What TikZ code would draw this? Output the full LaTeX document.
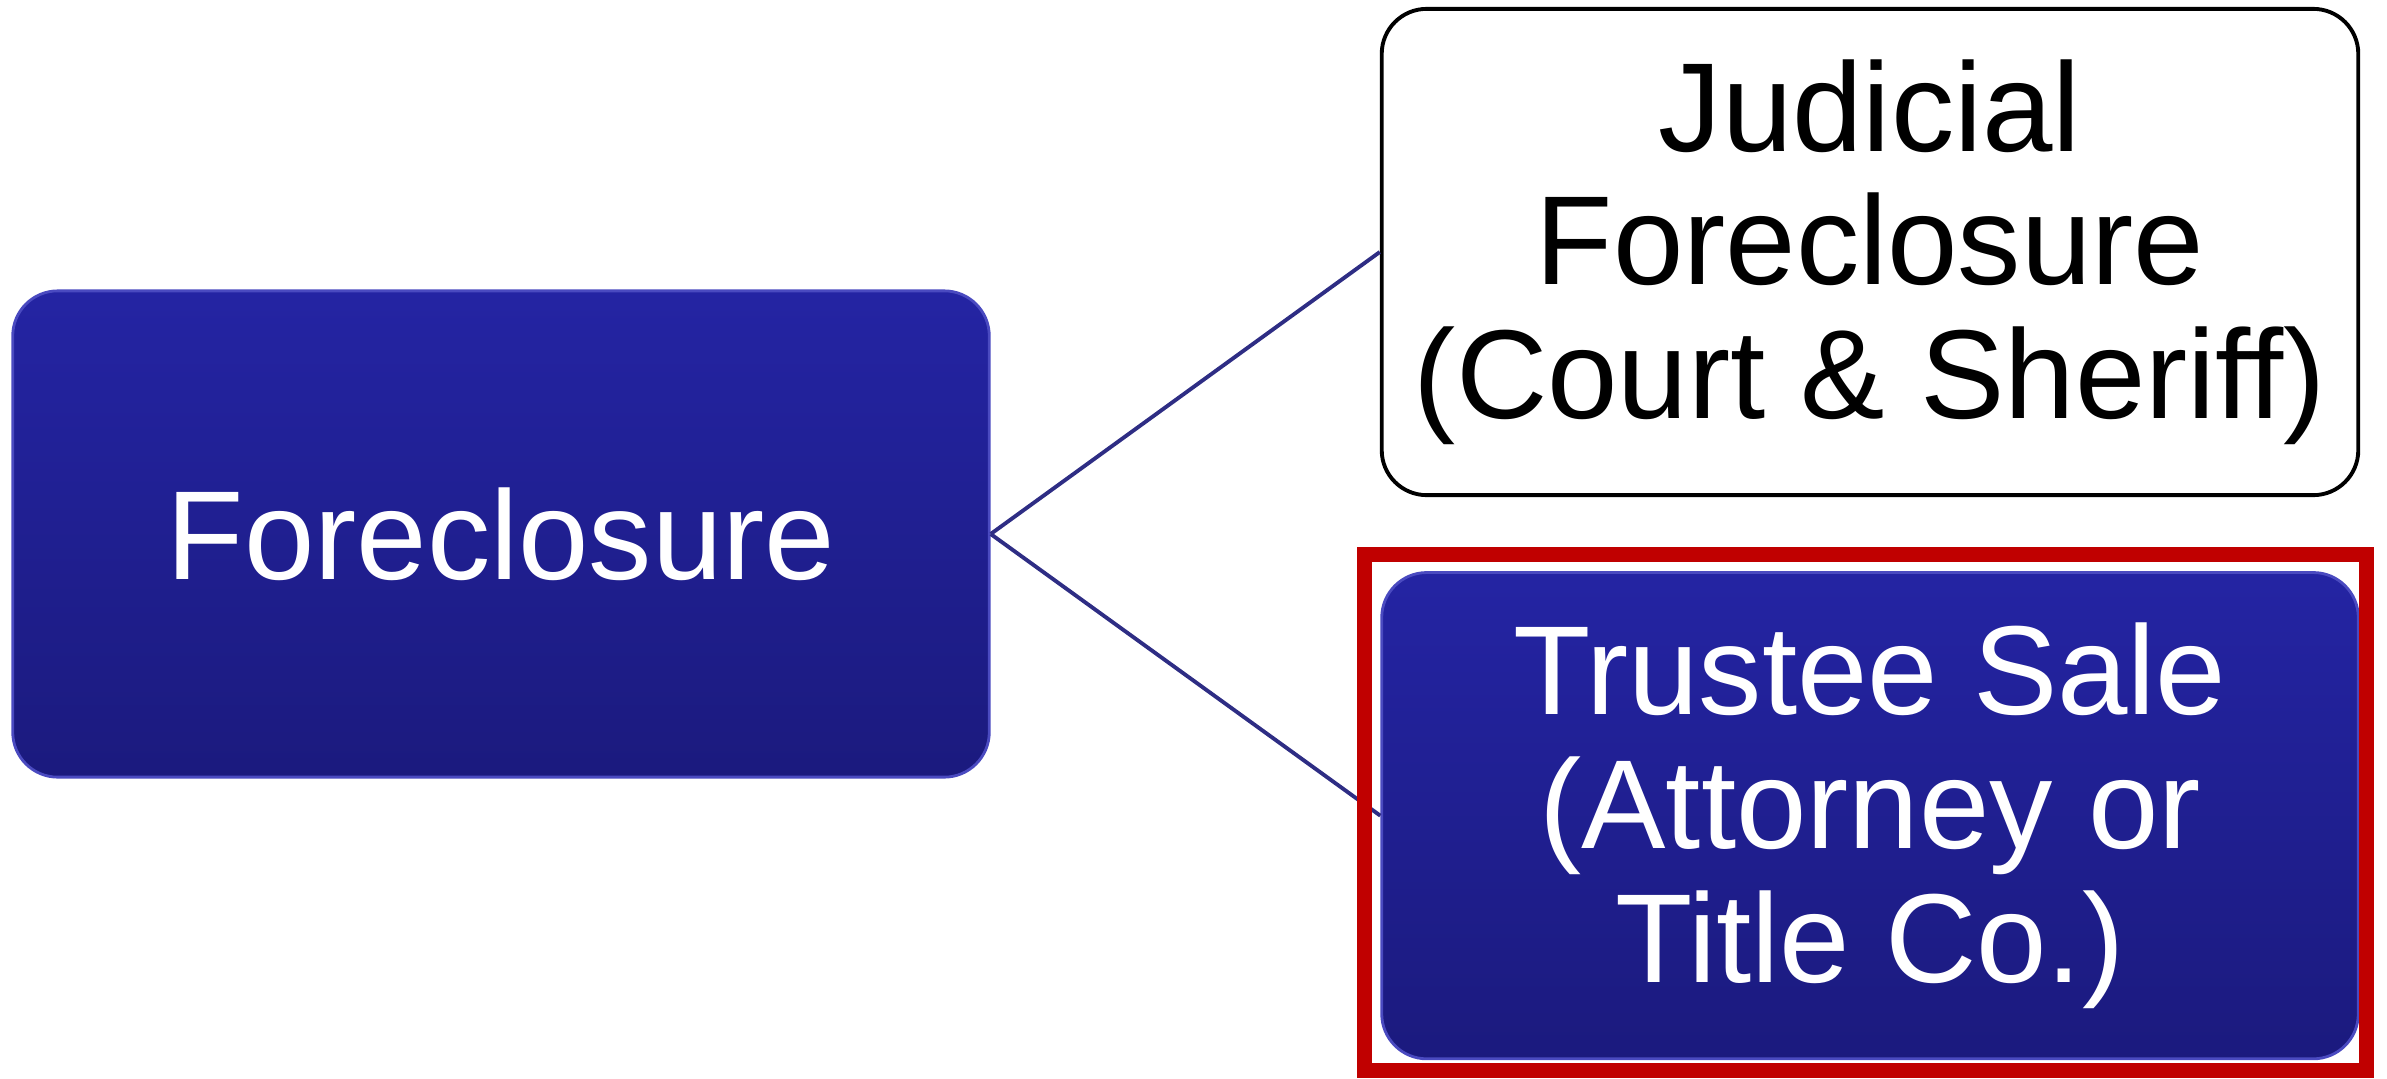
\documentclass[tikz,border=0pt]{standalone}
\usepackage{fontspec}
\setmainfont{Liberation Sans}
\usetikzlibrary{positioning}

\definecolor{boxtop}{HTML}{2424A3}
\definecolor{boxbottom}{HTML}{1B1A7E}
\definecolor{boxrim}{HTML}{4A4AC0}
\definecolor{linkblue}{HTML}{2E2D84}
\definecolor{framered}{HTML}{C00000}

\tikzset{
    bluebox/.style={rectangle, rounded corners=0.45cm, top color=boxtop, bottom color=boxbottom,
                    draw=boxrim, line width=0.8pt, text=white, align=center,
                    minimum width=9.76cm, minimum height=4.86cm,
                    font=\fontsize{36}{38}\selectfont},
    whitebox/.style={rectangle, rounded corners=0.45cm, fill=white, draw=black, line width=1.1pt,
                     text=black, align=center, minimum width=9.76cm, minimum height=4.86cm,
                     font=\fontsize{36}{38}\selectfont},
    link/.style={draw=linkblue, line width=1.1pt},
    highlight/.style={draw=framered, line width=0.15cm}
}

\begin{document}
\begin{tikzpicture}[x=0.01cm, y=-0.01cm]
    \useasboundingbox (0,0) rectangle (2387,1078);

    \node[bluebox]   (fore)     at (501,534)   {Foreclosure};
    \node[whitebox]  (judicial) at (1870,252)  {Judicial\\Foreclosure\\(Court \& Sheriff)};
    \node[bluebox]   (trustee)  [below=0.74cm of judicial] {Trustee Sale\\(Attorney or\\Title Co.)};

    % connectors
    \draw[link] (fore.east) -- (judicial.west);
    \draw[link] (fore.east) -- (trustee.west);

    % red frame round the trustee box
    \coordinate (frametl) at (1364.5,554.5);
    \coordinate (framebr) at (2366.5,1070.5);
    \draw[highlight] (frametl) rectangle (framebr);
\end{tikzpicture}
\end{document}
